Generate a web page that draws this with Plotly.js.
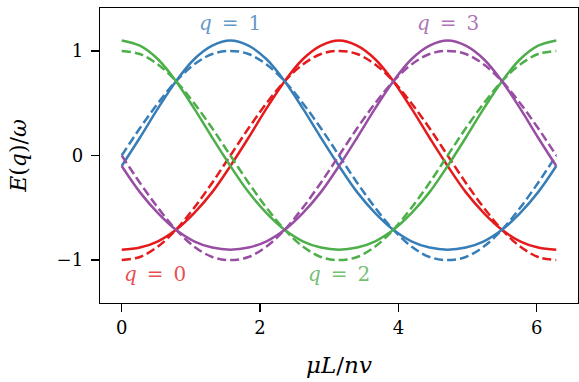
<!DOCTYPE html>
<html>
<head>
<meta charset="utf-8">
<script src="https://cdn.plot.ly/plotly-3.0.1.min.js"></script>
<style>
  html, body { margin: 0; padding: 0; background: #fff; }
  #plot { width: 579px; height: 382px; }
</style>
</head>
<body>
<div id="plot"></div>
<script>
// x = mu L / n v, sampled every pi/12 from 0 to 2 pi
const xs = [0, 0.262, 0.524, 0.785, 1.047, 1.309, 1.571, 1.833, 2.094, 2.356, 2.618, 2.880,
  3.142, 3.403, 3.665, 3.927, 4.189, 4.451, 4.712, 4.974, 5.236, 5.498, 5.760, 6.021, 6.283];

// solid curves (full E(q)/omega)
const solidQ0 = [-0.90, -0.88, -0.82, -0.71, -0.55, -0.35, -0.10, 0.17, 0.45, 0.71, 0.92, 1.05,
  1.10, 1.05, 0.92, 0.71, 0.45, 0.17, -0.10, -0.35, -0.55, -0.71, -0.82, -0.88, -0.90];
const solidQ1 = [-0.10, 0.17, 0.45, 0.71, 0.92, 1.05, 1.10, 1.05, 0.92, 0.71, 0.45, 0.17,
  -0.10, -0.35, -0.55, -0.71, -0.82, -0.88, -0.90, -0.88, -0.82, -0.71, -0.55, -0.35, -0.10];
const solidQ2 = [1.10, 1.05, 0.92, 0.71, 0.45, 0.17, -0.10, -0.35, -0.55, -0.71, -0.82, -0.88,
  -0.90, -0.88, -0.82, -0.71, -0.55, -0.35, -0.10, 0.17, 0.45, 0.71, 0.92, 1.05, 1.10];
const solidQ3 = [-0.10, -0.35, -0.55, -0.71, -0.82, -0.88, -0.90, -0.88, -0.82, -0.71, -0.55, -0.35,
  -0.10, 0.17, 0.45, 0.71, 0.92, 1.05, 1.10, 1.05, 0.92, 0.71, 0.45, 0.17, -0.10];

// dashed curves (approximation)
const dashQ0 = [-1, -0.97, -0.87, -0.71, -0.5, -0.26, 0, 0.26, 0.5, 0.71, 0.87, 0.97,
  1, 0.97, 0.87, 0.71, 0.5, 0.26, 0, -0.26, -0.5, -0.71, -0.87, -0.97, -1];
const dashQ1 = [0, 0.26, 0.5, 0.71, 0.87, 0.97, 1, 0.97, 0.87, 0.71, 0.5, 0.26,
  0, -0.26, -0.5, -0.71, -0.87, -0.97, -1, -0.97, -0.87, -0.71, -0.5, -0.26, 0];
const dashQ2 = [1, 0.97, 0.87, 0.71, 0.5, 0.26, 0, -0.26, -0.5, -0.71, -0.87, -0.97,
  -1, -0.97, -0.87, -0.71, -0.5, -0.26, 0, 0.26, 0.5, 0.71, 0.87, 0.97, 1];
const dashQ3 = [0, -0.26, -0.5, -0.71, -0.87, -0.97, -1, -0.97, -0.87, -0.71, -0.5, -0.26,
  0, 0.26, 0.5, 0.71, 0.87, 0.97, 1, 0.97, 0.87, 0.71, 0.5, 0.26, 0];

const qLabels = ["<i>q</i>\u2002=\u20020", "<i>q</i>\u2002=\u20021", "<i>q</i>\u2002=\u20022", "<i>q</i>\u2002=\u20023"];
const labelX = [0, 1.571, 3.142, 4.712];
const labelY = [-1.13, 1.27, -1.13, 1.27];

const colors = ["#e41a1c", "#377eb8", "#4daf4a", "#984ea3"];
const labelColors = ["rgba(228,26,28,0.8)", "rgba(55,126,184,0.8)", "rgba(77,175,74,0.8)", "rgba(152,78,163,0.8)"];

const solids = [solidQ0, solidQ1, solidQ2, solidQ3];
const dashes = [dashQ0, dashQ1, dashQ2, dashQ3];

const traces = [];
for (let q = 0; q < 4; q++) {
  traces.push({
    x: xs, y: solids[q], mode: "lines", type: "scatter",
    line: { color: colors[q], width: 2.5, shape: "spline" },
    hoverinfo: "skip", showlegend: false
  });
  traces.push({
    x: xs, y: dashes[q], mode: "lines", type: "scatter",
    line: { color: colors[q], width: 2.5, shape: "spline", dash: "9px,4px" },
    hoverinfo: "skip", showlegend: false
  });
}

const serif = "DejaVu Serif";

const annotations = qLabels.map((t, q) => ({
  x: labelX[q], y: labelY[q], xref: "x", yref: "y",
  text: t, showarrow: false,
  xanchor: q === 0 ? "left" : "center", yanchor: "middle",
  font: { family: serif, size: 20, color: labelColors[q] }
}));

const font = { family: serif, size: 18, color: "#000" };

Plotly.newPlot("plot", traces, {
  width: 579,
  height: 382,
  margin: { l: 100, r: 1, t: 8, b: 79 },
  paper_bgcolor: "#fff",
  plot_bgcolor: "#fff",
  font: font,
  showlegend: false,
  annotations: annotations,
  xaxis: {
    range: [-0.314, 6.597],
    tickvals: [0, 2, 4, 6],
    ticks: "outside", ticklen: 8, tickwidth: 1.3, tickcolor: "#000",
    showline: true, linecolor: "#000", linewidth: 1.3, mirror: true,
    showgrid: false, zeroline: false,
    tickfont: font,
    title: { text: "<i>μL</i>/<i>nv</i>", font: { family: serif, size: 23 }, standoff: 20 }
  },
  yaxis: {
    range: [-1.41, 1.41],
    tickvals: [-1, 0, 1],
    ticks: "outside", ticklen: 8, tickwidth: 1.3, tickcolor: "#000",
    ticklabelstandoff: 4,
    showline: true, linecolor: "#000", linewidth: 1.3, mirror: true,
    showgrid: false, zeroline: false,
    tickfont: font,
    title: { text: "<i>E</i>(<i>q</i>)/<i>ω</i>", font: { family: serif, size: 22 }, standoff: 24 }
  }
}, { staticPlot: true });
</script>
</body>
</html>
